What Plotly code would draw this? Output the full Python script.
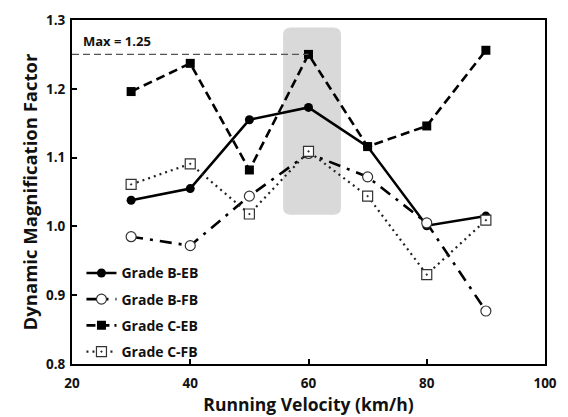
import plotly.graph_objects as go

# Running velocity (km/h)
velocity = [30, 40, 50, 60, 70, 80, 90]

# Dynamic magnification factor per girder grade / bearing type
grade_b_eb = [1.038, 1.055, 1.155, 1.173, 1.116, 1.001, 1.015]
grade_b_fb = [0.985, 0.972, 1.044, 1.106, 1.072, 1.005, 0.877]
grade_c_eb = [1.196, 1.237, 1.082, 1.250, 1.116, 1.146, 1.256]
grade_c_fb = [1.061, 1.091, 1.018, 1.109, 1.044, 0.930, 1.009]

max_value = 1.25
max_velocity = 60

x_ticks = [20, 40, 60, 80, 100]
y_ticks = [0.8, 0.9, 1.0, 1.1, 1.2, 1.3]

FONT = "Open Sans"
INK = "#111111"

fig = go.Figure()

series = [
    ("Grade B-EB", grade_b_eb, dict(color="black", width=2.6, dash="solid"),
     dict(symbol="circle", size=9, color="black")),
    ("Grade B-FB", grade_b_fb, dict(color="black", width=2.6, dash="12px,7px,3px,7px"),
     dict(symbol="circle", size=10, color="white", line=dict(width=1.2, color="#333333"))),
    ("Grade C-EB", grade_c_eb, dict(color="black", width=2.6, dash="9px,5px"),
     dict(symbol="square", size=9, color="black")),
    ("Grade C-FB", grade_c_fb, dict(color="#222222", width=2.2, dash="2px,4px"),
     dict(symbol="square-dot", size=10, color="white", line=dict(width=1.2, color="#333333"))),
]

for i, (name, vals, line, marker) in enumerate(series):
    fig.add_trace(go.Scatter(
        x=velocity, y=vals, name=name, mode="lines+markers",
        line=line, marker=marker, legendgroup=f"g{i}",
    ))

# Shaded band highlighting the peak velocity (rounded rectangle)
x0, x1 = max_velocity - 4.3, max_velocity + 5.5
y0, y1 = 1.017, 1.289
rx, ry = 1.3, 0.011
band = (
    f"M {x0 + rx},{y0} L {x1 - rx},{y0} Q {x1},{y0} {x1},{y0 + ry} "
    f"L {x1},{y1 - ry} Q {x1},{y1} {x1 - rx},{y1} "
    f"L {x0 + rx},{y1} Q {x0},{y1} {x0},{y1 - ry} "
    f"L {x0},{y0 + ry} Q {x0},{y0} {x0 + rx},{y0} Z"
)
fig.add_shape(type="path", path=band, xref="x", yref="y",
              fillcolor="#d9d9d9", line=dict(width=0), layer="below")

# Maximum reference line
fig.add_shape(type="line", xref="x", yref="y", x0=20, x1=max_velocity,
              y0=max_value, y1=max_value,
              line=dict(color="#555555", width=1.2, dash="7px,4px"))
fig.add_annotation(x=21.5, y=max_value, xref="x", yref="y",
                   text=f"Max = {max_value:.2f}", showarrow=False,
                   xanchor="left", yanchor="bottom", yshift=2,
                   font=dict(family=FONT, size=13, color=INK, weight="bold"))

axis_common = dict(
    showgrid=False, zeroline=False, showline=True, mirror=True,
    linecolor="black", linewidth=2, ticks="inside", ticklen=5,
    tickwidth=1.5, tickcolor="black",
    tickfont=dict(family=FONT, size=13.5, color=INK, weight="bold"),
)

fig.update_layout(
    width=568, height=417,
    margin=dict(l=72, r=11, t=14, b=52),
    paper_bgcolor="white", plot_bgcolor="white",
    font=dict(family=FONT, color=INK),
    xaxis=dict(range=[20, 100], tickvals=x_ticks, ticklabelstandoff=6,
               title=dict(text="Running Velocity (km/h)", standoff=2,
                          font=dict(family=FONT, size=17.5, color=INK, weight="bold")),
               **axis_common),
    yaxis=dict(range=[0.8, 1.3], tickvals=y_ticks, tickformat=".1f",
               ticklabelstandoff=2,
               title=dict(text="Dynamic Magnification Factor", standoff=4,
                          font=dict(family=FONT, size=18.5, color=INK, weight="bold")),
               **axis_common),
    legend=dict(x=0.02, y=0.31, xanchor="left", yanchor="top",
                bgcolor="rgba(0,0,0,0)", tracegroupgap=5,
                font=dict(family=FONT, size=14, color=INK, weight="bold")),
    showlegend=True,
)

fig.write_html("out.html")
